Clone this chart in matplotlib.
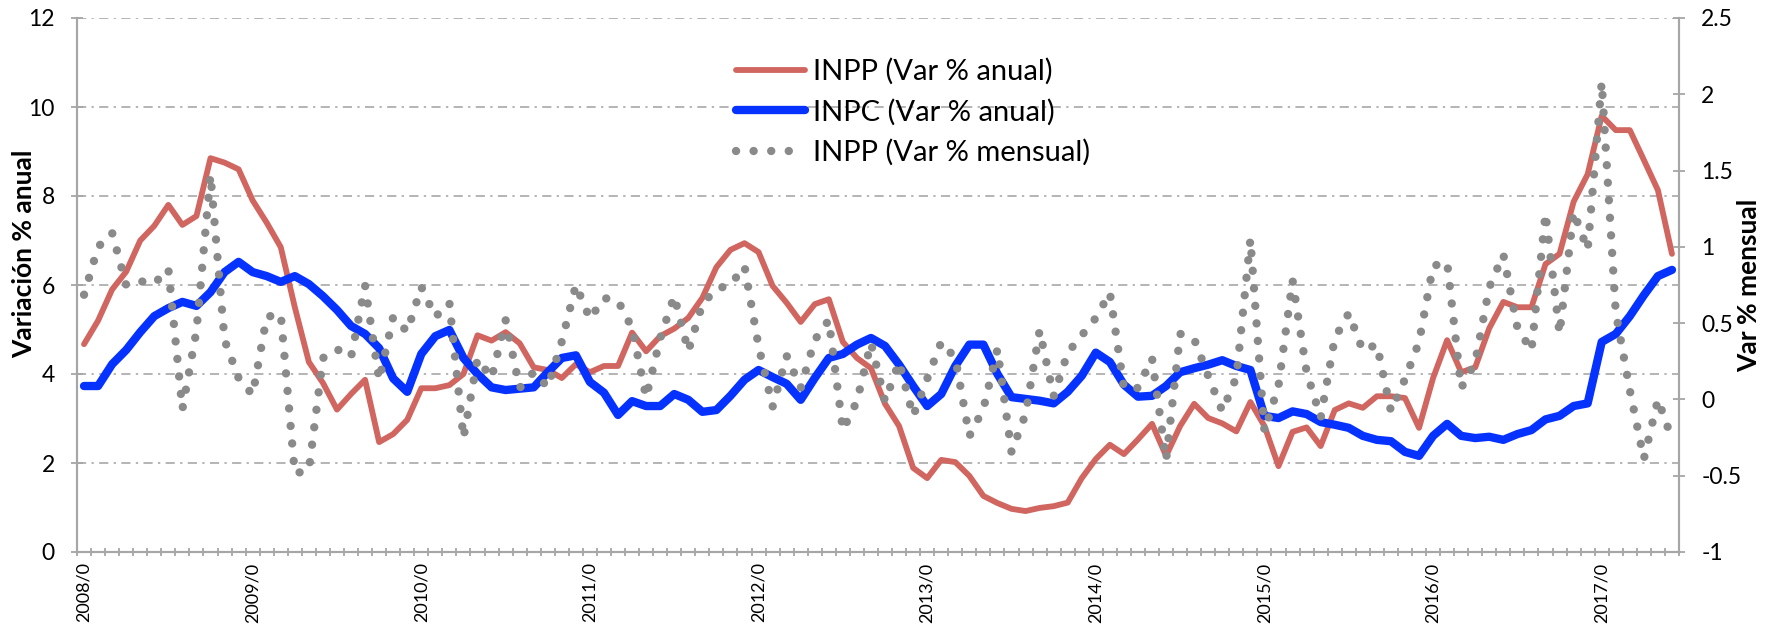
import matplotlib
matplotlib.use('Agg')
import matplotlib.pyplot as plt
import numpy as np

plt.rcParams['font.family'] = ['Lato', 'DejaVu Sans']

# datos mensuales 2008/01 - 2017/06
inpp_anual = [4.67, 5.2, 5.9, 6.3, 7.0, 7.33, 7.8, 7.35, 7.55, 8.85, 8.75, 8.6,
              7.9, 7.4, 6.85, 5.5, 4.27, 3.8, 3.2, 3.55, 3.87, 2.47, 2.65, 2.97,
              3.68, 3.68, 3.75, 4.0, 4.87, 4.75, 4.94, 4.69, 4.15, 4.09, 3.91, 4.22,
              4.04, 4.18, 4.18, 4.93, 4.51, 4.85, 5.02, 5.26, 5.71, 6.4, 6.79, 6.94,
              6.74, 5.98, 5.6, 5.17, 5.57, 5.68, 4.72, 4.36, 4.13, 3.33, 2.83, 1.89,
              1.66, 2.07, 2.02, 1.71, 1.26, 1.1, 0.97, 0.92, 0.99, 1.03, 1.11, 1.66,
              2.09, 2.41, 2.2, 2.53, 2.88, 2.16, 2.83, 3.33, 3.01, 2.89, 2.71, 3.37,
              2.83, 1.93, 2.7, 2.8, 2.38, 3.19, 3.34, 3.24, 3.5, 3.5, 3.46, 2.79,
              3.91, 4.76, 4.04, 4.15, 5.03, 5.62, 5.5, 5.5, 6.47, 6.7, 7.87, 8.49,
              9.8, 9.48, 9.48, 8.81, 8.13, 6.7]
inpc_anual = [3.73, 3.73, 4.22, 4.54, 4.94, 5.3, 5.48, 5.62, 5.53, 5.84, 6.29, 6.52,
              6.29, 6.2, 6.07, 6.2, 6.02, 5.75, 5.44, 5.08, 4.9, 4.58, 3.9, 3.6,
              4.45, 4.85, 4.99, 4.36, 4.0, 3.7, 3.64, 3.67, 3.7, 4.04, 4.36, 4.42,
              3.82, 3.58, 3.08, 3.39, 3.28, 3.28, 3.55, 3.42, 3.15, 3.19, 3.51, 3.87,
              4.09, 3.93, 3.78, 3.42, 3.91, 4.36, 4.45, 4.66, 4.81, 4.63, 4.21, 3.73,
              3.28, 3.55, 4.18, 4.66, 4.66, 4.0, 3.48, 3.44, 3.4, 3.34, 3.6, 3.96,
              4.48, 4.27, 3.76, 3.49, 3.51, 3.73, 4.04, 4.13, 4.21, 4.31, 4.18, 4.09,
              3.06, 3.01, 3.16, 3.1, 2.92, 2.86, 2.79, 2.61, 2.52, 2.49, 2.25, 2.16,
              2.61, 2.88, 2.61, 2.56, 2.59, 2.52, 2.65, 2.74, 2.98, 3.06, 3.28, 3.34,
              4.72, 4.9, 5.3, 5.77, 6.2, 6.34]
inpp_mensual = [0.686, 1.0, 1.092, 0.749, 0.775, 0.759, 0.856, -0.064, 0.45, 1.472, 0.389, 0.14,
                0.03, 0.541, 0.56, -0.486, -0.463, 0.271, 0.329, 0.277, 0.746, 0.127, 0.541, 0.444,
                0.738, 0.541, 0.633, -0.253, 0.266, 0.14, 0.52, 0.075, 0.18, 0.08, 0.38, 0.75,
                0.528, 0.665, 0.646, 0.468, 0.014, 0.40, 0.678, 0.316, 0.625, 0.725, 0.75, 0.874,
                0.35, -0.048, 0.285, 0.075, 0.39, 0.52, -0.2, -0.012, 0.371, -0.012, 0.245, -0.109,
                0.135, 0.376, 0.271, -0.24, -0.062, 0.329, -0.345, -0.096, 0.452, 0.022, 0.306, 0.42,
                0.534, 0.70, 0.075, 0.075, 0.27, -0.397, 0.43, 0.395, 0.153, -0.077, 0.145, 1.05,
                -0.21, 0.09, 0.78, 0.18, -0.12, 0.40, 0.565, 0.32, 0.36, -0.077, 0.133, 0.376,
                0.875, 0.90, 0.075, 0.245, 0.735, 0.95, 0.47, 0.32, 1.22, 0.43, 1.23, 0.98,
                2.08, 0.57, 0.06, -0.39, 0.0, -0.26]

anios = [2008, 2009, 2010, 2011, 2012, 2013, 2014, 2015, 2016, 2017]
etiquetas_x = [str(a) + '/0' for a in anios]
ticks_der = [-1, -0.5, 0, 0.5, 1, 1.5, 2, 2.5]
etiquetas_der = ['-1', '-0.5', '0', '0.5', '1', '1.5', '2', '2.5']

gris = '#A6A6A6'
x = np.arange(len(inpp_anual))

fig = plt.figure(figsize=(17.69, 6.25), dpi=100)
ax = fig.add_axes([77/1769, 1-552/625, (1679-77)/1769, 534/625])
ax2 = ax.twinx()

l1, = ax.plot(x, inpp_anual, color='#D0665F', lw=4.2, solid_joinstyle='round',
              solid_capstyle='round', label='INPP (Var % anual)')
l2, = ax.plot(x, inpc_anual, color='#0532FF', lw=6, solid_joinstyle='round',
              solid_capstyle='round', label='INPC (Var % anual)')
l3, = ax2.plot(x, inpp_mensual, color='#8A8A8A', lw=6, linestyle=(0, (0.01, 2.1)),
               dash_capstyle='round', label='INPP (Var % mensual)')

ax.set_xlim(-0.5, len(x)-0.5)
ax.set_ylim(0, 12)
ax2.set_ylim(-1, 2.5)

ax.set_yticks(range(0, 13, 2))
ax.yaxis.grid(True, color='#A0A0A0', lw=1.1, linestyle=(0, (6, 3.5, 1.5, 3.5)))
ax.set_axisbelow(True)
ax2.set_yticks(ticks_der)
ax2.set_yticklabels(etiquetas_der)

ax.set_xticks(x[::12])
ax.set_xticklabels(etiquetas_x, rotation=90, fontsize=13)
ax.set_xticks(np.arange(-0.5, len(x), 1), minor=True)
ax.tick_params(axis='x', which='major', length=0, pad=7.5)
ax.tick_params(axis='x', which='minor', length=6, direction='inout', color=gris, width=1.3)
ax.tick_params(axis='y', length=8, direction='inout', color=gris, width=1.3, labelsize=16.5, pad=12)
ax2.tick_params(axis='y', length=8, direction='inout', color=gris, width=1.3, labelsize=16.5, pad=12)

for a in (ax, ax2):
    a.spines['top'].set_visible(False)
    for s in ('left', 'right', 'bottom'):
        a.spines[s].set_color(gris)
        a.spines[s].set_linewidth(1.5)

ax.set_ylabel('Variación % anual', fontsize=19, fontweight='bold')
ax.yaxis.set_label_coords(-0.0255, 0.558)
ax2.set_ylabel('Var % mensual', fontsize=19, fontweight='bold')
ax2.yaxis.set_label_coords(1.0365, 0.5)

ax2.legend(handles=[l1, l2, l3], loc='upper left', bbox_to_anchor=(736/1769, 1-58/625),
           bbox_transform=fig.transFigure, frameon=False, fontsize=21, handlelength=2.35,
           handletextpad=0.3, labelspacing=0.47, borderpad=0, borderaxespad=0)

fig.savefig('out.png', dpi=100)
